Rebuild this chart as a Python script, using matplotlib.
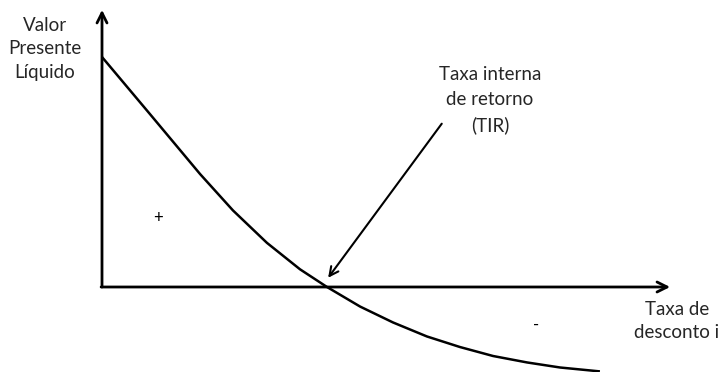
import numpy as np
import matplotlib.pyplot as plt

# curve of NPV vs discount rate (arbitrary units)
taxa = [0.0, 2.13, 4.36, 5.82, 7.33, 8.8, 10.0, 11.47, 12.93, 14.44, 15.91, 17.38, 18.89, 20.36, 22.13]
vpl = [10.0, 7.52, 4.91, 3.33, 1.92, 0.77, 0.0, -0.85, -1.54, -2.15, -2.61, -3.0, -3.28, -3.5, -3.67]
tir = 10.0

fig = plt.figure(figsize=(7.23, 3.72), dpi=100)
ax = fig.add_axes([0, 0, 1, 1])
# 22.5 px per unit on x, 23 px per unit on y; origin at (102, 287) px
ax.set_xlim(-102 / 22.5, (723 - 102) / 22.5)
ax.set_ylim(-(372 - 287) / 23, 287 / 23)
ax.axis('off')

font = 'Lato'
txt_color = '#262626'

# axes with arrows
ax.annotate('', xy=(0, 12.05), xytext=(0, 0),
            arrowprops=dict(arrowstyle='->', lw=2, color='black', mutation_scale=18,
                            shrinkA=0, shrinkB=0))
ax.annotate('', xy=(25.25, 0), xytext=(-0.04, 0),
            arrowprops=dict(arrowstyle='->', lw=2, color='black', mutation_scale=18,
                            shrinkA=0, shrinkB=0))

ax.plot(taxa, vpl, color='black', lw=1.8, solid_capstyle='butt', solid_joinstyle='round')

# arrow pointing to the IRR
ax.annotate('', xy=(tir + 0.05, 0.4), xytext=(15.1, 7.1),
            arrowprops=dict(arrowstyle='->', lw=1.5, color='black', mutation_scale=16,
                            shrinkA=0, shrinkB=0))

ax.text(-2.53, 10.35, 'Valor\nPresente\nLíquido', ha='center', va='center',
        fontsize=13.5, family=font, color=txt_color, linespacing=1.45)
ax.text(17.24, 8.13, 'Taxa interna\nde retorno\n(TIR)', ha='center', va='center',
        fontsize=13.5, family=font, color=txt_color, linespacing=1.55)
ax.text(25.55, -1.48, 'Taxa de\ndesconto i', ha='center', va='center',
        fontsize=13.5, family=font, color=txt_color, linespacing=1.45)
ax.text(2.5, 3.0, '+', ha='center', va='center', fontsize=12, family=font)
ax.text(19.3, -1.65, '-', ha='center', va='center', fontsize=12, family=font)

fig.savefig('out.png', dpi=100)
